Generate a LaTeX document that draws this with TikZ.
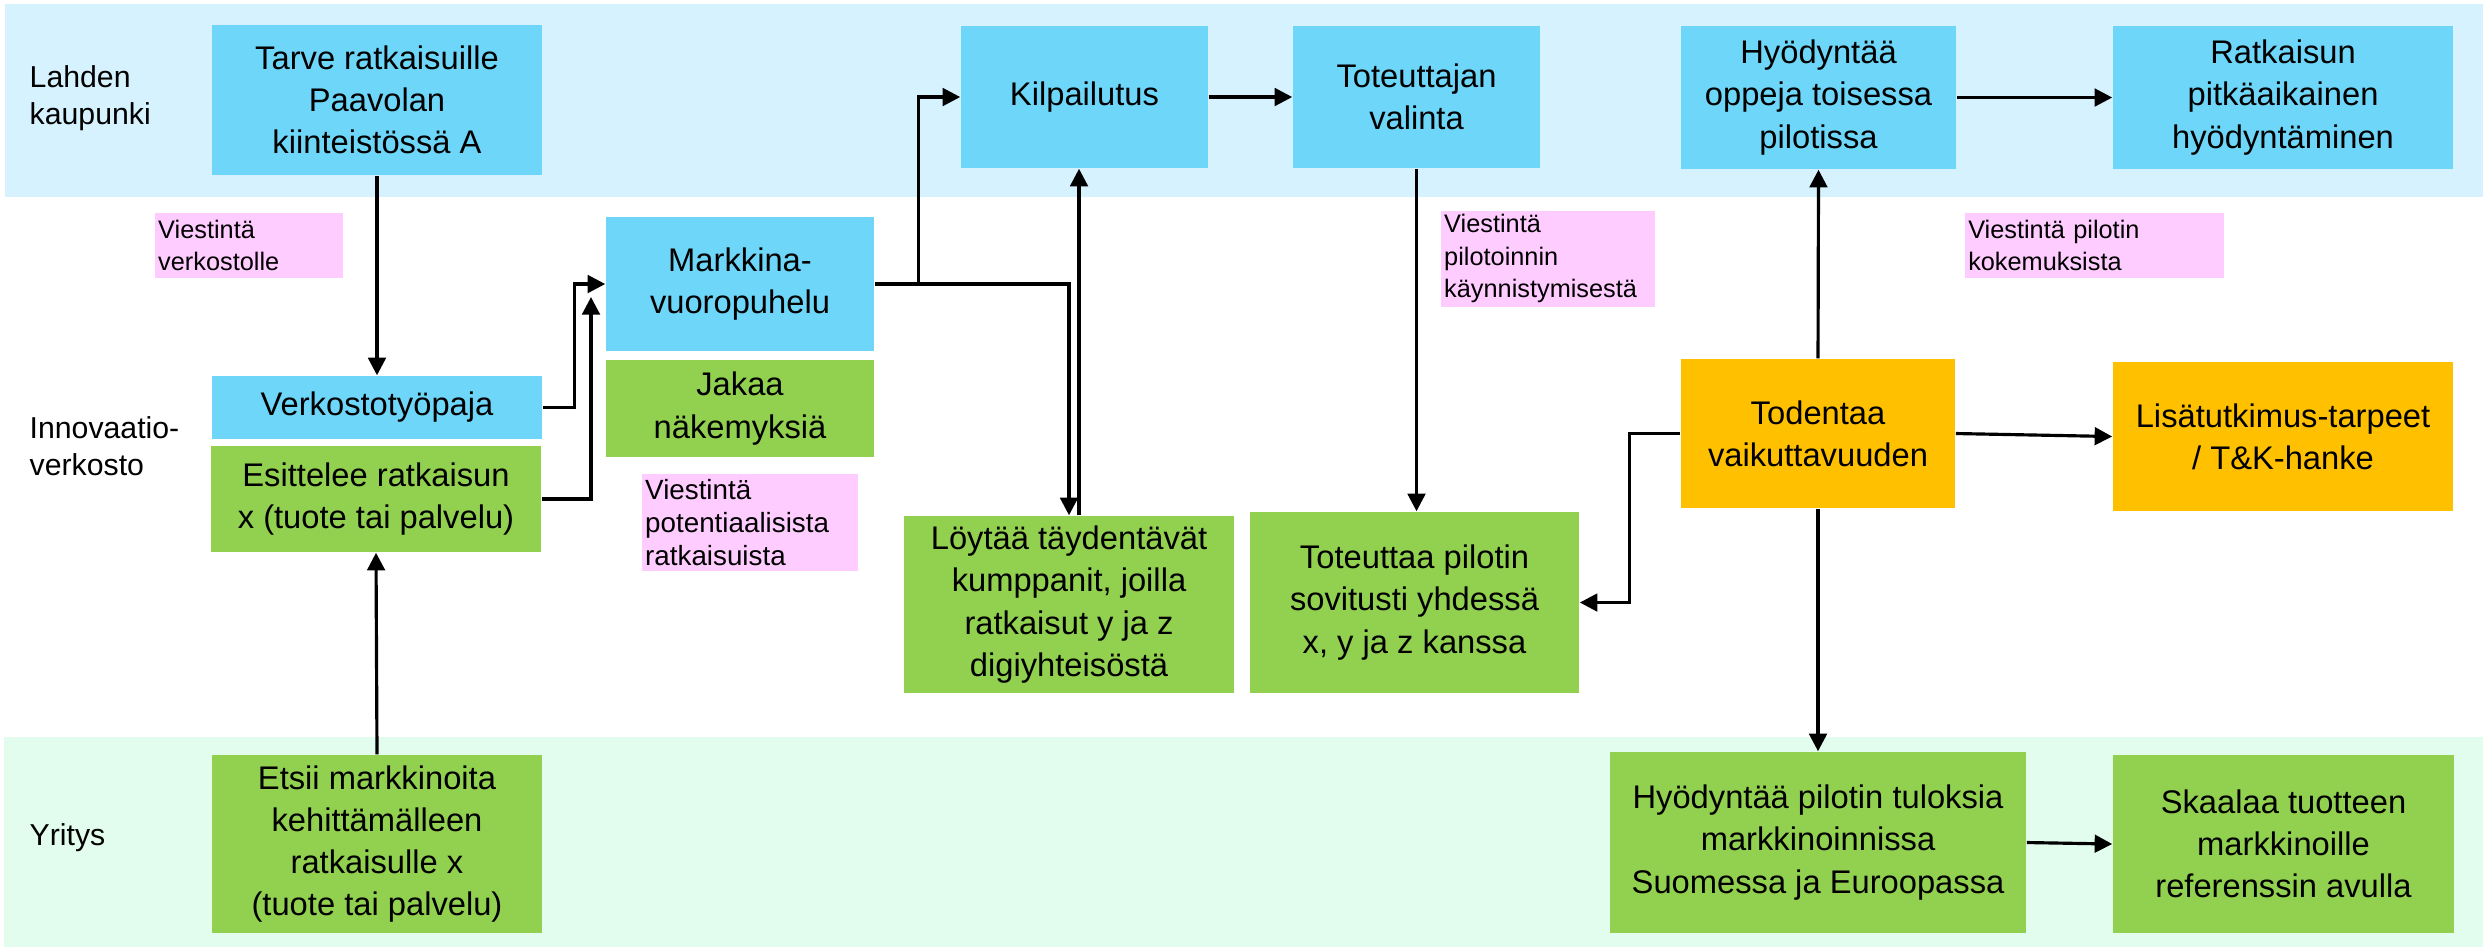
\documentclass[tikz,border=0pt]{standalone}
\usepackage{fontspec}
\setmainfont{Liberation Sans}
\usetikzlibrary{arrows.meta}
\definecolor{bandblue}{HTML}{D6F2FE}
\definecolor{bandgreen}{HTML}{E2FDEE}
\definecolor{boxblue}{HTML}{6DD6F9}
\definecolor{boxgreen}{HTML}{92D050}
\definecolor{boxorange}{HTML}{FFC000}
\definecolor{boxpink}{HTML}{FFCCFF}
\begin{document}
\begin{tikzpicture}[x=0.01cm,y=-0.01cm,
  box/.style={inner sep=0pt, align=center, font=\fontsize{9.3}{12}\selectfont},
  bluebox/.style={box, fill=boxblue},
  greenbox/.style={box, fill=boxgreen},
  orangebox/.style={box, fill=boxorange},
  note/.style={fill=boxpink, inner sep=0pt, inner xsep=1pt, align=left, anchor=north west, font=\fontsize{7.2}{9.2}\selectfont},
  lane/.style={anchor=west, align=left, inner sep=0pt, font=\fontsize{8.6}{10.5}\selectfont},
  arr/.style={draw=black, line width=0.9pt, -{Triangle[length=5pt,width=5pt]}}
]
\useasboundingbox (0,0) rectangle (2483,947);
% bands
\fill[bandblue] (5,4) rectangle (2483,197);
\fill[bandgreen] (4,737) rectangle (2483,947);

% lane labels
\node[lane] (l1) at (29,98) {Lahden\\kaupunki};
\node[lane] (l2) at (29,446) {Innovaatio-\\verkosto};
\node[lane] (l3) at (29,838) {Yritys};

% boxes
\node[bluebox, minimum width=3.30cm, minimum height=1.50cm] (tarve) at (377,100) {Tarve ratkaisuille\\Paavolan\\kiinteistössä A};
\node[note, text width=1.81cm, minimum height=0.65cm] (vverk) at (154,212) {Viestintä\\verkostolle};
\node[bluebox, minimum width=2.68cm, minimum height=1.34cm] (markkina) at (740,284) {Markkina-\\vuoropuhelu};
\node[greenbox, minimum width=2.68cm, minimum height=0.97cm] (jakaa) at (740,408.5) {Jakaa\\näkemyksiä};
\node[bluebox, minimum width=3.30cm, minimum height=0.63cm] (verkosto) at (377,407.5) {Verkostotyöpaja};
\node[greenbox, minimum width=3.30cm, minimum height=1.06cm] (esittelee) at (376,499) {Esittelee ratkaisun\\x (tuote tai palvelu)};
\node[note, text width=2.09cm, minimum height=0.97cm, font=\fontsize{7.9}{9.4}\selectfont] (vpot) at (641,473) {Viestintä\\potentiaalisista\\ratkaisuista};
\node[greenbox, minimum width=3.30cm, minimum height=1.78cm] (etsii) at (377,844) {Etsii markkinoita\\kehittämälleen\\ratkaisulle x\\(tuote tai palvelu)};
\node[bluebox, minimum width=2.47cm, minimum height=1.42cm] (kilp) at (1084.5,97) {Kilpailutus};
\node[bluebox, minimum width=2.47cm, minimum height=1.42cm] (totval) at (1416.5,97) {Toteuttajan\\valinta};
\node[note, text width=2.07cm, minimum height=0.96cm] (vpil) at (1440,210) {Viestintä\\pilotoinnin\\käynnistymisestä};
\node[greenbox, minimum width=3.30cm, minimum height=1.77cm] (loytaa) at (1069,604.5) {Löytää täydentävät\\kumppanit, joilla\\ratkaisut y ja z\\digiyhteisöstä};
\node[greenbox, minimum width=3.29cm, minimum height=1.81cm] (toteuttaa) at (1414.5,602.5) {Toteuttaa pilotin\\sovitusti yhdessä\\x, y ja z kanssa};
\node[bluebox, minimum width=2.75cm, minimum height=1.43cm] (hyoppeja) at (1818.5,97.5) {Hyödyntää\\oppeja toisessa\\pilotissa};
\node[bluebox, minimum width=3.40cm, minimum height=1.43cm] (ratk) at (2283,97.5) {Ratkaisun\\pitkäaikainen\\hyödyntäminen};
\node[note, text width=2.52cm, minimum height=0.65cm] (vkok) at (1964,212) {Viestintä pilotin\\kokemuksista};
\node[orangebox, minimum width=2.74cm, minimum height=1.49cm] (todentaa) at (1818,433.5) {Todentaa\\vaikuttavuuden};
\node[orangebox, minimum width=3.40cm, minimum height=1.49cm] (lisa) at (2283,436.5) {Lisätutkimus-tarpeet\\/ T\&K-hanke};
\node[greenbox, minimum width=4.16cm, minimum height=1.81cm] (hyopil) at (1818,842.5) {Hyödyntää pilotin tuloksia\\markkinoinnissa\\Suomessa ja Euroopassa};
\node[greenbox, minimum width=3.41cm, minimum height=1.78cm] (skaalaa) at (2283.5,844) {Skaalaa tuotteen\\markkinoille\\referenssin avulla};

\coordinate (esitend) at (591,297);

% connectors
\draw[arr] (tarve.south) -- (verkosto.north);
\draw[arr] (verkosto.east) -- ++(32,0) |- (markkina.west);
\draw[arr] (esittelee.east) -| (esitend);
\draw[arr] (etsii.north) -- (esittelee.south);
\draw[arr] (markkina.east) -- ++(44,0) |- (kilp.west);
\draw[arr] (markkina.east) -| (loytaa.north);
\draw[arr] ([xshift=0.10cm]loytaa.north) -- ([xshift=0.10cm]loytaa.north |- kilp.south);
\draw[arr] (kilp.east) -- (totval.west);
\draw[arr] (totval.south) -- (totval.south |- toteuttaa.north);
\draw[arr] (todentaa.west) -- ++(-51,0) |- (toteuttaa.east);
\draw[arr] (todentaa.north) -- (hyoppeja.south);
\draw[arr] (todentaa.east) -- (lisa.west);
\draw[arr] (todentaa.south) -- (hyopil.north);
\draw[arr] (hyoppeja.east) -- (ratk.west);
\draw[arr] (hyopil.east) -- (skaalaa.west);
\end{tikzpicture}
\end{document}
